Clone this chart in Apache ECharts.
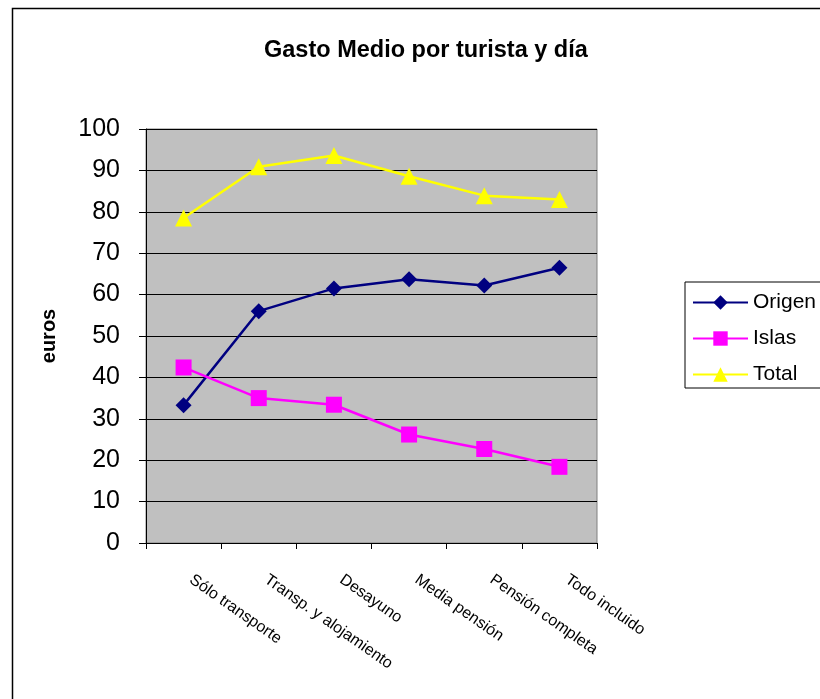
<!DOCTYPE html>
<html>
<head>
<meta charset="utf-8">
<script src="https://cdn.jsdelivr.net/npm/echarts@6/dist/echarts.min.js"></script>
<style>html,body{margin:0;padding:0;background:#fff}#c{width:820px;height:699px}</style>
</head>
<body>
<div id="c"></div>
<script>
var categories = ["Sólo transporte", "Transp. y alojamiento", "Desayuno", "Media pensión", "Pensión completa", "Todo incluido"];
var origen = [33.3, 56.0, 61.5, 63.7, 62.2, 66.5];
var islas = [42.4, 35.0, 33.4, 26.2, 22.7, 18.4];
var total = [78.5, 90.9, 93.6, 88.6, 83.9, 83.0];
var yTicks = { min: 0, max: 100, interval: 10 };

var font = "Liberation Sans, Arial, sans-serif";
var chart = echarts.init(document.getElementById('c'), null, { renderer: 'canvas' });
chart.setOption({
  backgroundColor: '#ffffff',
  animation: false,
  graphic: [{
    type: 'rect', left: 10, top: 6, z: -1,
    shape: { width: 830, height: 710 },
    style: { fill: 'none', stroke: '#000', lineWidth: 1.5 }
  }],
  title: {
    text: 'Gasto Medio por turista y día',
    left: 259, top: 34,
    textStyle: { fontFamily: font, fontSize: 23.5, fontWeight: 'bold', color: '#000' }
  },
  legend: {
    orient: 'vertical',
    left: 685, top: 282,
    data: ['Origen', 'Islas', 'Total'],
    borderColor: '#000', borderWidth: 1,
    padding: [10, 30, 3, 7],
    itemWidth: 55, itemHeight: 18, itemGap: 15,
    textStyle: { fontFamily: font, fontSize: 21, color: '#000' }
  },
  grid: {
    left: 146, right: 223, top: 129, bottom: 156,
    show: true, backgroundColor: '#C0C0C0', borderColor: '#808080', borderWidth: 1
  },
  xAxis: {
    type: 'category',
    data: categories,
    boundaryGap: true,
    axisLine: { lineStyle: { color: '#000', width: 1 } },
    axisTick: { show: true, inside: false, length: 6, alignWithLabel: false, lineStyle: { color: '#000' } },
    axisLabel: { rotate: -35, interval: 0, margin: 30, padding: [0, 0, 0, 9], fontFamily: font, fontSize: 16, color: '#000' },
    splitLine: { show: false }
  },
  yAxis: {
    type: 'value',
    min: yTicks.min, max: yTicks.max, interval: yTicks.interval,
    name: 'euros', nameLocation: 'middle', nameRotate: 90, nameGap: 87,
    nameTextStyle: { fontFamily: font, fontSize: 20, fontWeight: 'bold', color: '#000' },
    axisLine: { show: true, lineStyle: { color: '#000', width: 1 } },
    axisTick: { show: true, inside: false, length: 7, lineStyle: { color: '#000' } },
    axisLabel: { margin: 26, fontFamily: font, fontSize: 25, color: '#000' },
    splitLine: { show: true, lineStyle: { color: '#000', width: 1 } }
  },
  series: [
    { name: 'Origen', type: 'line', data: origen, symbol: 'diamond', symbolSize: 16,
      itemStyle: { color: '#000080' }, lineStyle: { color: '#000080', width: 2.5 } },
    { name: 'Islas', type: 'line', data: islas, symbol: 'rect', symbolSize: 16,
      itemStyle: { color: '#FF00FF' }, lineStyle: { color: '#FF00FF', width: 2.5 } },
    { name: 'Total', type: 'line', data: total, symbol: 'triangle', symbolSize: 17,
      itemStyle: { color: '#FFFF00' }, lineStyle: { color: '#FFFF00', width: 2.5 } }
  ]
});
</script>
</body>
</html>
